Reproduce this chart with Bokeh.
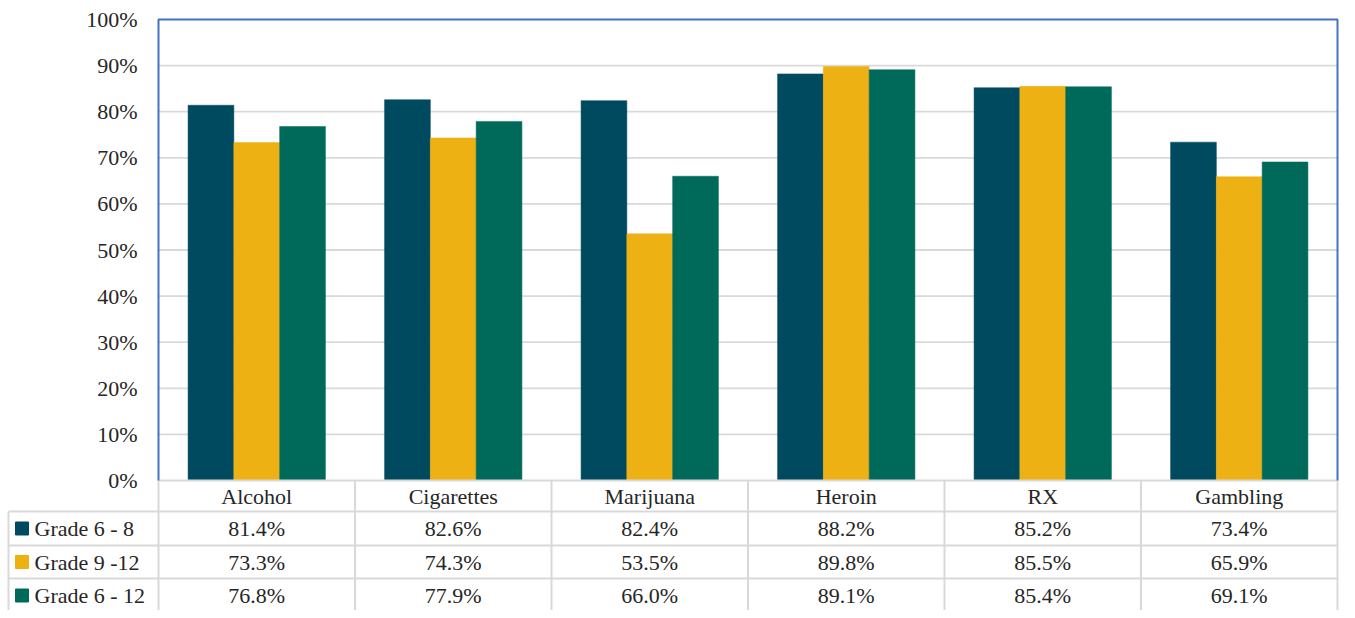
from bokeh.plotting import figure
from bokeh.models import Range1d
from bokeh.core.properties import value
from bokeh.embed import file_html
from bokeh.resources import INLINE

# ---------------- data ----------------
categories = ["Alcohol", "Cigarettes", "Marijuana", "Heroin", "RX", "Gambling"]
series_names = ["Grade 6 - 8", "Grade 9 -12", "Grade 6 - 12"]
grade_6_8 = [81.4, 82.6, 82.4, 88.2, 85.2, 73.4]
grade_9_12 = [73.3, 74.3, 53.5, 89.8, 85.5, 65.9]
grade_6_12 = [76.8, 77.9, 66.0, 89.1, 85.4, 69.1]
y_ticks = [0, 10, 20, 30, 40, 50, 60, 70, 80, 90, 100]
y_tick_labels = ["0%", "10%", "20%", "30%", "40%", "50%", "60%", "70%", "80%", "90%", "100%"]

series = [grade_6_8, grade_9_12, grade_6_12]
colors = ["#004A60", "#EEB114", "#006A5A"]

# ---------------- layout (canvas px) ----------------
W, H = 1339, 610
FRAME_L, FRAME_R = 158, 1337
PX_X = (FRAME_R - FRAME_L) / len(categories)
ZERO_Y = 480
PX_Y = 4.61
BAR_W = 0.233

FONT = value("Liberation Serif")
FS = value("22px")
TXT = "#262626"
GRIDC = "#D9D9D9"
BLUE = "#4472C4"


def cx(px):
    return (px - FRAME_L) / PX_X


def cy(py):
    return (ZERO_Y - py) / PX_Y


p = figure(width=W, height=H, output_backend="svg", toolbar_location=None,
           x_range=Range1d(cx(0), cx(W)), y_range=Range1d(cy(H), cy(0)),
           min_border=0, min_border_left=0, min_border_right=0,
           min_border_top=0, min_border_bottom=0)
p.xaxis.visible = False
p.yaxis.visible = False
p.xgrid.visible = False
p.ygrid.visible = False
p.outline_line_color = None
p.background_fill_color = "white"
p.border_fill_color = "white"

n = len(categories)

# gridlines
gy = y_ticks[1:-1]
p.segment(x0=[0] * len(gy), x1=[n] * len(gy), y0=gy, y1=gy,
          line_color=GRIDC, line_width=1.8)

# bars
for j, vals in enumerate(series):
    xs = [i + 0.5 + (j - 1) * BAR_W for i in range(n)]
    p.vbar(x=xs, top=vals, bottom=0, width=BAR_W, fill_color=colors[j],
           line_color=colors[j], line_width=0.5)

# ---------------- data table ----------------
row_edges = [480, 511, 545, 578, 612]  # canvas px
p.segment(x0=[0], x1=[n], y0=[cy(row_edges[0])], y1=[cy(row_edges[0])],
          line_color=GRIDC, line_width=2)
hy = [cy(v) for v in row_edges[1:4]]
p.segment(x0=[cx(8)] * 3, x1=[n] * 3, y0=hy, y1=hy,
          line_color=GRIDC, line_width=2)
vx = list(range(n + 1))
p.segment(x0=vx, x1=vx, y0=[cy(row_edges[0])] * len(vx), y1=[cy(H + 5)] * len(vx),
          line_color=GRIDC, line_width=2)
p.segment(x0=[cx(8)], x1=[cx(8)], y0=[cy(row_edges[1])], y1=[cy(H + 5)],
          line_color=GRIDC, line_width=2)

# plot area border (blue) on top, left, right
p.line(x=[0, 0, n, n], y=[0, y_ticks[-1], y_ticks[-1], 0],
       line_color=BLUE, line_width=2)

# y tick labels
p.text(x=[cx(137)] * len(y_ticks), y=y_ticks, text=y_tick_labels,
       text_align="right", text_baseline="middle", text_font=FONT,
       text_font_size=FS, text_color=TXT)

centers = [i + 0.5 for i in range(n)]
hc = cy((row_edges[0] + row_edges[1]) / 2)
p.text(x=centers, y=[hc] * n, text=categories, text_align="center",
       text_baseline="middle", text_font=FONT, text_font_size=FS, text_color=TXT)

for j, vals in enumerate(series):
    rc = cy((row_edges[j + 1] + row_edges[j + 2]) / 2)
    p.text(x=centers, y=[rc] * n, text=[f"{v:.1f}%" for v in vals],
           text_align="center", text_baseline="middle", text_font=FONT,
           text_font_size=FS, text_color=TXT)
    p.rect(x=[cx(21.5)], y=[rc], width=13, height=13, width_units="screen",
           height_units="screen", fill_color=colors[j], line_color=colors[j])
    p.text(x=[cx(34)], y=[rc], text=[series_names[j]], text_align="left",
           text_baseline="middle", text_font=FONT, text_font_size=FS,
           text_color=TXT)

open("out.html", "w").write(file_html(p, INLINE))
